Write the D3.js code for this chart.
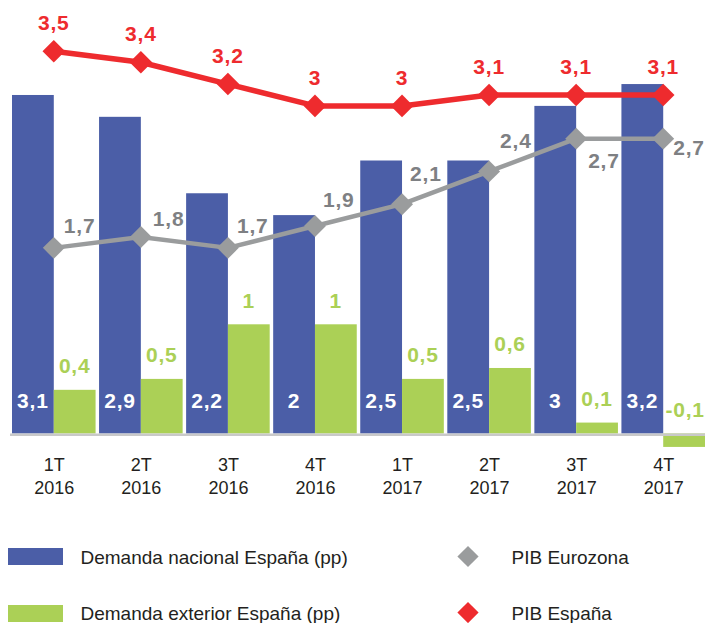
<!DOCTYPE html>
<html>
<head>
<meta charset="utf-8">
<script src="https://cdn.jsdelivr.net/npm/d3@7"></script>
<style>
  html, body { margin: 0; padding: 0; background: #ffffff; }
  svg { display: block; font-family: "Liberation Sans", Arial, Helvetica, sans-serif; }
</style>
</head>
<body>
<svg id="chart" width="705" height="623"></svg>
<script>
// ---- data ----
const categories = ["1T 2016", "2T 2016", "3T 2016", "4T 2016", "1T 2017", "2T 2017", "3T 2017", "4T 2017"];
const quarterLabels = ["1T", "2T", "3T", "4T", "1T", "2T", "3T", "4T"];
const yearLabels = ["2016", "2016", "2016", "2016", "2017", "2017", "2017", "2017"];
const demandaNacional = [3.1, 2.9, 2.2, 2, 2.5, 2.5, 3, 3.2];
const demandaExterior = [0.4, 0.5, 1, 1, 0.5, 0.6, 0.1, -0.1];
const pibEurozona = [1.7, 1.8, 1.7, 1.9, 2.1, 2.4, 2.7, 2.7];
const pibEspana = [3.5, 3.4, 3.2, 3, 3, 3.1, 3.1, 3.1];
const legendLabels = ["Demanda nacional España (pp)", "Demanda exterior España (pp)", "PIB Eurozona", "PIB España"];

// ---- layout (label placement for PIB Eurozona values) ----
const euroLabelDy = [-15, -11, -15, -19, -23, -23, 29, 16];
const euroLabelDx = [10, 12, 9, 8, 8, 11, 12, 10];

const colors = {
  nac: "#4b5ea7",
  ext: "#abd056",
  esp: "#ee2b2e",
  euro: "#9a9c9d",
  euroText: "#7e8083",
  text: "#231f20",
  axis: "#c9c9c9"
};

const fmt = v => String(v).replace(".", ",");

const svg = d3.select("#chart");

const x0 = d3.scaleBand().domain(categories).range([12, 705]).paddingInner(0.04).paddingOuter(0);
const x1 = d3.scaleBand().domain(["nac", "ext"]).range([0, x0.bandwidth()]).padding(0);
const y = d3.scaleLinear().domain([0, 3.5]).range([433.5, 51.3]);
const cx = c => x0(c) + x0.bandwidth() / 2;

// ---- bars ----
const barG = svg.append("g");
barG.selectAll("rect.nac").data(categories).join("rect")
  .attr("class", "nac")
  .attr("x", (c) => x0(c) + x1("nac"))
  .attr("width", x1.bandwidth())
  .attr("y", (c, i) => y(Math.max(0, demandaNacional[i])))
  .attr("height", (c, i) => Math.abs(y(demandaNacional[i]) - y(0)))
  .attr("fill", colors.nac);

barG.selectAll("rect.ext").data(categories).join("rect")
  .attr("class", "ext")
  .attr("x", (c) => x0(c) + x1("ext"))
  .attr("width", x1.bandwidth())
  .attr("y", (c, i) => y(Math.max(0, demandaExterior[i])))
  .attr("height", (c, i) => Math.abs(y(demandaExterior[i]) - y(0)) + (demandaExterior[i] < 0 ? 2.5 : 0))
  .attr("fill", colors.ext);

// ---- baseline ----
svg.append("line")
  .attr("x1", 10).attr("x2", 705)
  .attr("y1", y(0) + 1.2).attr("y2", y(0) + 1.2)
  .attr("stroke", colors.axis).attr("stroke-width", 2.5);

// ---- x axis ----
const xCenter = d3.scalePoint().domain(categories).range([cx(categories[0]), cx(categories[categories.length - 1])]);
const axisG = svg.append("g")
  .attr("transform", `translate(0,${y(0)})`)
  .call(d3.axisBottom(xCenter).tickSize(0).tickFormat(() => ""));
axisG.select(".domain").remove();
axisG.selectAll(".tick text").each(function (c) {
  const i = categories.indexOf(c);
  const t = d3.select(this).attr("dy", null).attr("y", 0)
    .attr("fill", colors.text).attr("font-size", 18)
    .attr("font-family", "'Liberation Sans', Arial, Helvetica, sans-serif")
    .attr("text-anchor", "middle");
  t.append("tspan").attr("x", 0).attr("y", 37).text(quarterLabels[i]);
  t.append("tspan").attr("x", 0).attr("y", 60).text(yearLabels[i]);
});

// ---- lines ----
const diamond = size => d3.symbol().type(d3.symbolSquare).size(size)();

const lineGen = d3.line().x((d, i) => cx(categories[i])).y(d => y(d));

svg.append("path").datum(pibEurozona)
  .attr("d", lineGen).attr("fill", "none")
  .attr("stroke", colors.euro).attr("stroke-width", 4.5).attr("stroke-linejoin", "round");
svg.selectAll("path.euroMark").data(pibEurozona).join("path")
  .attr("class", "euroMark")
  .attr("d", diamond(240))
  .attr("transform", (d, i) => `translate(${cx(categories[i])},${y(d)}) rotate(45)`)
  .attr("fill", colors.euro);

svg.append("path").datum(pibEspana)
  .attr("d", lineGen).attr("fill", "none")
  .attr("stroke", colors.esp).attr("stroke-width", 5.5).attr("stroke-linejoin", "round");
svg.selectAll("path.espMark").data(pibEspana).join("path")
  .attr("class", "espMark")
  .attr("d", diamond(256))
  .attr("transform", (d, i) => `translate(${cx(categories[i])},${y(d)}) rotate(45)`)
  .attr("fill", colors.esp);

// ---- value labels ----
const labelStyle = sel => sel.attr("font-size", 21).attr("font-weight", "bold").attr("letter-spacing", 0.8);

svg.selectAll("text.nacLbl").data(demandaNacional).join("text")
  .attr("class", "nacLbl")
  .call(labelStyle)
  .attr("x", (d, i) => x0(categories[i]) + x1("nac") + x1.bandwidth() / 2)
  .attr("y", y(0) - 25.5)
  .attr("text-anchor", "middle")
  .attr("fill", "#ffffff")
  .text(fmt);

svg.selectAll("text.extLbl").data(demandaExterior).join("text")
  .attr("class", "extLbl")
  .call(labelStyle)
  .attr("x", (d, i) => x0(categories[i]) + x1("ext") + x1.bandwidth() / 2 + (d < 0 ? 1 : 0))
  .attr("y", d => Math.min(y(d), y(0)) - 16.5)
  .attr("text-anchor", "middle")
  .attr("fill", colors.ext)
  .text(fmt);

svg.selectAll("text.espLbl").data(pibEspana).join("text")
  .attr("class", "espLbl")
  .call(labelStyle)
  .attr("x", (d, i) => cx(categories[i]))
  .attr("y", d => y(d) - 21)
  .attr("text-anchor", "middle")
  .attr("fill", colors.esp)
  .text(fmt);

svg.selectAll("text.euroLbl").data(pibEurozona).join("text")
  .attr("class", "euroLbl")
  .call(labelStyle)
  .attr("x", (d, i) => cx(categories[i]) + euroLabelDx[i])
  .attr("y", (d, i) => y(d) + euroLabelDy[i])
  .attr("text-anchor", "start")
  .attr("fill", colors.euroText)
  .text(fmt);

// ---- legend ----
const leg = svg.append("g");
const legRows = [556.5, 613.5];
leg.append("rect").attr("x", 8).attr("y", legRows[0] - 8.5).attr("width", 55).attr("height", 17).attr("fill", colors.nac);
leg.append("rect").attr("x", 8).attr("y", legRows[1] - 8.5).attr("width", 55).attr("height", 17).attr("fill", colors.ext);
leg.append("path").attr("d", diamond(225)).attr("transform", `translate(468,${legRows[0]}) rotate(45)`).attr("fill", colors.euro);
leg.append("path").attr("d", diamond(225)).attr("transform", `translate(468,${legRows[1] - 1}) rotate(45)`).attr("fill", colors.esp);

const legText = [
  { x: 80.5, y: 563.5, t: legendLabels[0] },
  { x: 80.5, y: 620, t: legendLabels[1] },
  { x: 511.5, y: 564, t: legendLabels[2] },
  { x: 511.5, y: 620, t: legendLabels[3] }
];
leg.selectAll("text").data(legText).join("text")
  .attr("x", d => d.x).attr("y", d => d.y)
  .attr("font-size", 19).attr("fill", colors.text)
  .text(d => d.t);
</script>
</body>
</html>
